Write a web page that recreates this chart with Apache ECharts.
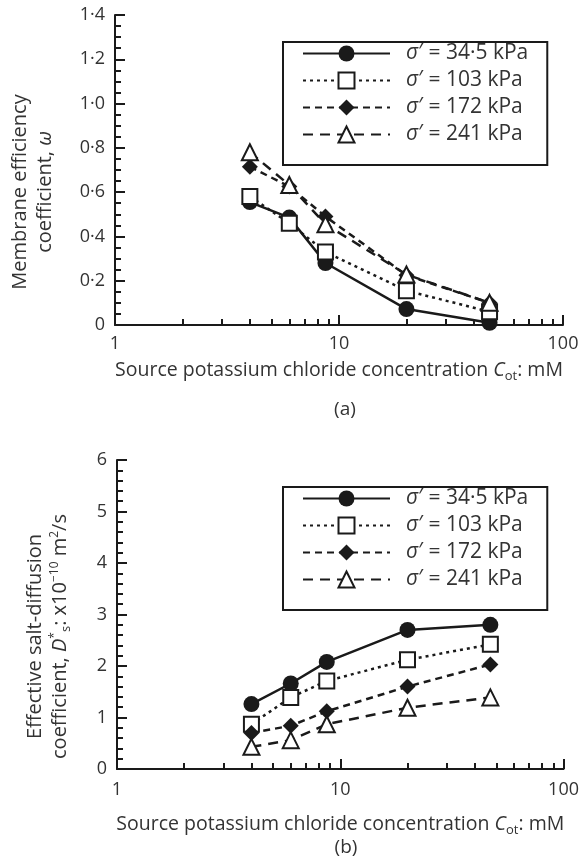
<!DOCTYPE html>
<html>
<head>
<meta charset="utf-8">
<script src="https://cdn.jsdelivr.net/npm/echarts@6/dist/echarts.min.js"></script>
<style>
  html, body { margin: 0; padding: 0; background: #fff; }
  #chart { width: 582px; height: 863px; }
</style>
</head>
<body>
<div id="chart"></div>
<script>
// ---- data ----
const concentration = [4, 6, 8.7, 20, 47];          // C_ot (mM)
const seriesNames = ['σ′ = 34·5 kPa', 'σ′ = 103 kPa', 'σ′ = 172 kPa', 'σ′ = 241 kPa'];
// (a) membrane efficiency coefficient ω
const omega345 = [0.555, 0.485, 0.28, 0.072, 0.01];
const omega103 = [0.58, 0.46, 0.33, 0.155, 0.06];
const omega172 = [0.715, 0.625, 0.49, 0.225, 0.10];
const omega241 = [0.78, 0.632, 0.455, 0.228, 0.10];
// (b) effective salt-diffusion coefficient D*s (x10^-10 m2/s)
const diff345 = [1.26, 1.66, 2.08, 2.70, 2.80];
const diff103 = [0.87, 1.39, 1.71, 2.12, 2.42];
const diff172 = [0.70, 0.84, 1.12, 1.60, 2.03];
const diff241 = [0.43, 0.56, 0.87, 1.19, 1.39];
const xTickLabels = ['1', '10', '100'];
const yTickLabelsA = ['0', '0·2', '0·4', '0·6', '0·8', '1·0', '1·2', '1·4'];
const yTickLabelsB = ['0', '1', '2', '3', '4', '5', '6'];

// ---- styles ----
const INK = '#1a1a1a';
const TXT = '#333';
const FONT = 'Open Sans';
const seriesStyles = [
  { symbol: 'circle', symbolSize: 16, dash: 'solid', fill: INK },
  { symbol: 'rect', symbolSize: 15, dash: [3, 4], fill: '#fff' },
  { symbol: 'diamond', symbolSize: 16, dash: [7, 5], fill: INK },
  { symbol: 'triangle', symbolSize: 16, dash: [10, 7], fill: '#fff' }
];

function pair(ys) { return concentration.map((x, i) => [x, ys[i]]); }

function makeSeries(dataArr, gi) {
  return dataArr.map((ys, k) => {
    const st = seriesStyles[k];
    return {
      type: 'line',
      name: seriesNames[k],
      xAxisIndex: gi, yAxisIndex: gi,
      data: pair(ys),
      symbol: st.symbol,
      symbolSize: st.symbolSize,
      lineStyle: { color: INK, width: 2.5, type: st.dash },
      itemStyle: { color: st.fill, borderColor: INK, borderWidth: st.fill === '#fff' ? 2 : 0 }
    };
  });
}

function rich(size) {
  return {
    i: { fontFamily: FONT, fontSize: size, fontStyle: 'italic', color: TXT },
    sub: { fontFamily: FONT, fontSize: 13, color: TXT, padding: [12, 0, 0, 0] },
    sup: { fontFamily: FONT, fontSize: 12, color: TXT, padding: [0, 0, 12, 0] },
    pad: { width: 44 }
  };
}

// always return a string from label formatters
function xLabel(v) {
  const idx = Math.round(Math.log10(v));
  const s = xTickLabels[idx];
  return typeof s === 'string' ? s : String(Math.round(v));
}
function yLabelFor(labels, interval) {
  return v => {
    const idx = Math.round(v / interval);
    const s = labels[idx];
    return (typeof s === 'string' && Math.abs(idx * interval - v) < 1e-6) ? s : String(v).replace('.', '·');
  };
}

function xAxisCfg(gi, nameGap, labelMargin) {
  return {
    type: 'log', logBase: 10, min: 1, max: 100, gridIndex: gi,
    name: 'Source potassium chloride concentration {i|C}{sub|ot}: mM',
    nameLocation: 'middle', nameGap: nameGap,
    nameTextStyle: { fontFamily: FONT, fontSize: 19.5, color: TXT, rich: rich(19.5) },
    axisLine: { show: true, lineStyle: { color: INK, width: 2 } },
    axisTick: { show: true, inside: true, length: 10, lineStyle: { color: INK, width: 2 } },
    minorTick: { show: true, splitNumber: 9, length: 6, lineStyle: { color: INK, width: 2 } },
    splitLine: { show: false },
    axisLabel: { fontFamily: FONT, fontSize: 18, color: TXT, margin: labelMargin, formatter: xLabel }
  };
}

function yAxisCfg(gi, max, interval, minorSplit, labels, name, nameGap) {
  return {
    type: 'value', min: 0, max: max, interval: interval, gridIndex: gi,
    name: name, nameLocation: 'middle', nameGap: nameGap, nameRotate: 90,
    nameTextStyle: { fontFamily: FONT, fontSize: 20, color: TXT, lineHeight: 25, rich: rich(20) },
    axisLine: { show: true, lineStyle: { color: INK, width: 2 } },
    axisTick: { show: true, inside: true, length: 10, lineStyle: { color: INK, width: 2 } },
    minorTick: { show: true, splitNumber: minorSplit, length: 6, lineStyle: { color: INK, width: 2 } },
    splitLine: { show: false },
    axisLabel: { fontFamily: FONT, fontSize: 18, color: TXT, margin: 10, formatter: yLabelFor(labels, interval) }
  };
}

function legendCfg(top) {
  return {
    orient: 'vertical', left: 283, top: top,
    data: seriesNames,
    itemWidth: 87, itemHeight: 20, itemGap: 6,
    padding: [1, 19, 20, 19],
    borderColor: INK, borderWidth: 2,
    selectedMode: false,
    textStyle: { fontFamily: FONT, fontSize: 21, lineHeight: 20, color: TXT, padding: [0, 0, 0, 11], rich: rich(21) },
    formatter: name => '{i|σ}' + name.slice(1)
  };
}

const option = {
  backgroundColor: '#fff',
  animation: false,
  title: [
    { text: '(a)', left: 340, top: 395, textAlign: 'center',
      textStyle: { fontFamily: FONT, fontSize: 19, fontWeight: 'normal', color: TXT } },
    { text: '(b)', left: 341, top: 833, textAlign: 'center',
      textStyle: { fontFamily: FONT, fontSize: 19, fontWeight: 'normal', color: TXT } }
  ],
  legend: [legendCfg(42), legendCfg(487)],
  grid: [
    { left: 115, top: 15, width: 448, height: 310 },
    { left: 117, top: 460, width: 448, height: 309 }
  ],
  xAxis: [xAxisCfg(0, 33, 10), xAxisCfg(1, 43, 12)],
  yAxis: [
    yAxisCfg(0, 1.4, 0.2, 4, yTickLabelsA, 'Membrane efficiency{pad|}\ncoefficient, {i|ω}{pad|}', 57),
    yAxisCfg(1, 6, 1, 5, yTickLabelsB, 'Effective salt-diffusion{pad|}\ncoefficient, {i|D}{sup|*}{sub|s}: x10{sup|−10} m{sup|2}/s{pad|}', 44)
  ],
  series: [
    ...makeSeries([omega345, omega103, omega172, omega241], 0),
    ...makeSeries([diff345, diff103, diff172, diff241], 1)
  ]
};

const chart = echarts.init(document.getElementById('chart'));
chart.setOption(option);
</script>
</body>
</html>
